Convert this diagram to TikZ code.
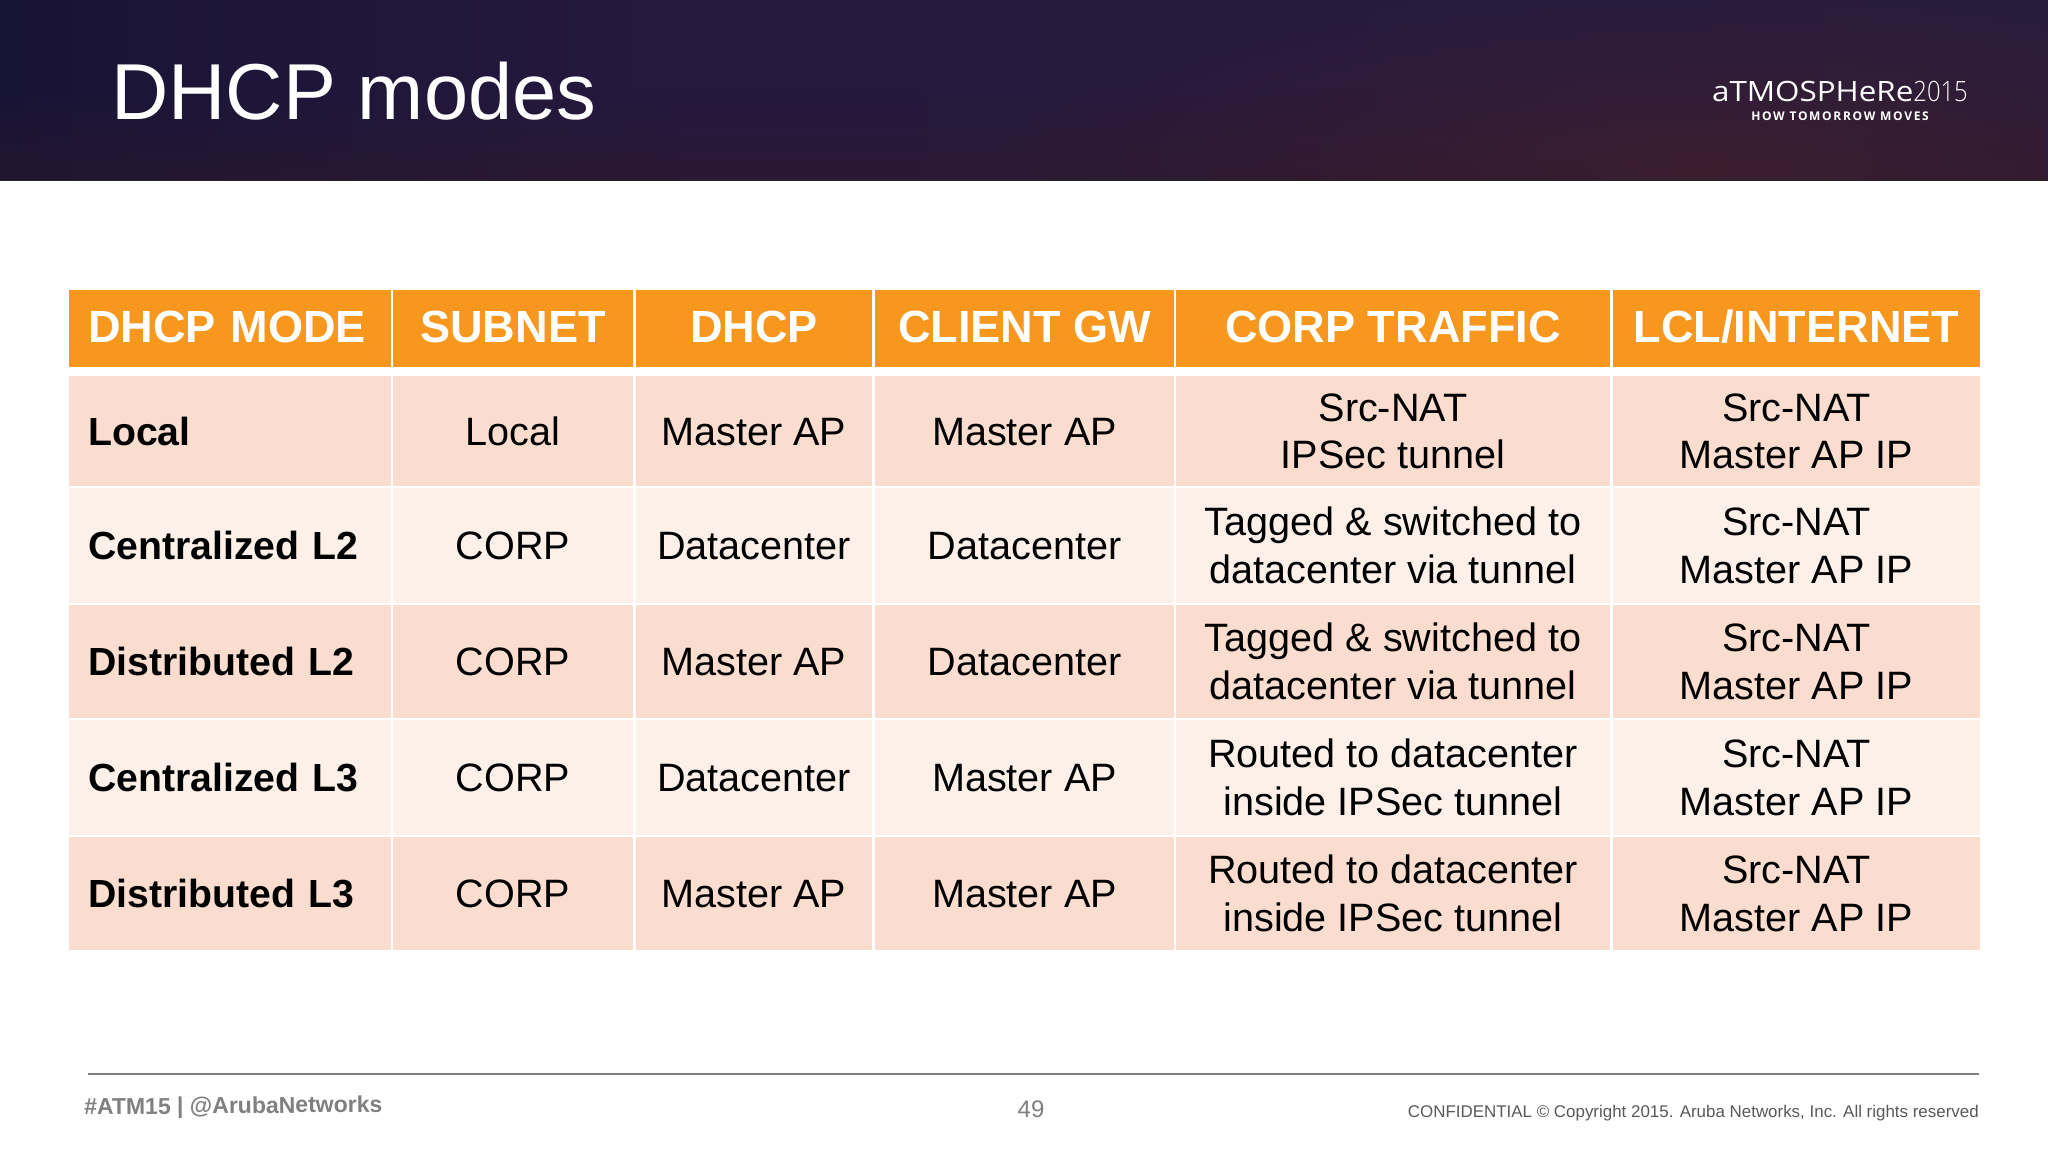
\documentclass[tikz,border=0pt]{standalone}
\usepackage{graphicx}
\usepackage{fontspec}
\setmainfont{Liberation Sans}
\newfontfamily\logofont{Open Sans}
\newfontfamily\yearfont{Open Sans Light}
\usetikzlibrary{positioning}
\usetikzlibrary{fadings}
\definecolor{bandleft}{RGB}{24,20,54}
\definecolor{bandmid}{RGB}{38,25,62}
\definecolor{bandright}{RGB}{40,28,60}
\definecolor{bandfoot}{RGB}{48,24,40}
\definecolor{bandglow}{RGB}{84,36,40}
\definecolor{headorange}{RGB}{247,151,30}
\definecolor{rowdark}{RGB}{251,221,207}
\definecolor{rowlight}{RGB}{253,240,233}
\definecolor{footgrey}{RGB}{128,128,130}
\newcommand{\cellstrut}{\rule[-7pt]{0pt}{35pt}}
\newcommand{\twolines}[2]{\cellstrut #1\\#2\cellstrut}
\tikzfading[name=glowfade,inner color=transparent!60,outer color=transparent!100]
\tikzset{
  cell/.style={inner sep=0pt,align=center,font=\fontsize{29.7}{35.7}\selectfont,text=black},
  modecell/.style={cell,font=\fontsize{29.4}{35.7}\selectfont\bfseries,text width=212pt,align=left},
  headcell/.style={inner sep=0pt,fill=headorange,text=white,minimum height=57.75pt,font=\fontsize{33.8}{38}\selectfont\bfseries},
  dark/.style={fill=rowdark},
  light/.style={fill=rowlight},
  colone/.style={minimum width=241.5pt},
  coltwo/.style={minimum width=180.4pt},
  colthree/.style={minimum width=177pt},
  colfour/.style={minimum width=224.25pt},
  colfive/.style={minimum width=325.5pt},
  colsix/.style={minimum width=275.25pt},
  rowone/.style={minimum height=82.5pt},
  rowtwo/.style={minimum height=86.25pt},
  rowthree/.style={minimum height=84.75pt},
  rowfour/.style={minimum height=86.25pt},
  rowfive/.style={minimum height=84.75pt},
}
\begin{document}
\begin{tikzpicture}[x=0.75pt,y=0.75pt,yscale=-1,xscale=1]
\useasboundingbox (0,0) rectangle (2048,1152);
\fill [white] (0,0) rectangle (2048,1152);
%Title band
\shade [left color=bandleft,right color=bandmid] (0,0) rectangle (700,181);
\shade [left color=bandmid,right color=bandright] (700,0) rectangle (2048,181);
\fill [bandfoot,path fading=north,opacity=0.45] (0,90) rectangle (2048,181);
\begin{scope}
\clip (0,0) rectangle (2048,181);
\fill [bandglow,path fading=glowfade,fit fading=true] (1000,-20) rectangle (2400,340);
\end{scope}
\draw [color=black!85,line width=0.6pt] (0,180.5) -- (2048,180.5);
% Text Node
\draw (111,91) node [anchor=west][inner sep=0pt,text=white,font=\fontsize{59.5}{70}\selectfont] (title) {DHCP modes};
% Text Node
\draw (1968,91) node [anchor=east][inner sep=0pt,text=white,font=\logofont\fontsize{21}{25}\selectfont] (logo) {\scalebox{1.12}[1]{aTMOSPHeRe}{\yearfont\scalebox{0.85}[1]{2015}}};
% Text Node
\draw (1840,116) node [inner sep=0pt,text=white,font=\logofont\bfseries\fontsize{9}{11}\selectfont\addfontfeatures{LetterSpace=14}] (slogan) {HOW TOMORROW MOVES};
%Header row
\draw (229.5,328.5) node [headcell,colone,text width=212pt,align=left] (hmode) {\cellstrut DHCP MODE};
\draw (513,328.5) node [headcell,coltwo] (hsubnet) {\cellstrut SUBNET};
\draw (754,328.5) node [headcell,colthree] (hdhcp) {\cellstrut DHCP};
\draw (1024.5,328.5) node [headcell,colfour] (hgw) {\cellstrut CLIENT GW};
\draw (1393,328.5) node [headcell,colfive] (hcorp) {\cellstrut CORP TRAFFIC};
\draw (1796.5,328.5) node [headcell,colsix] (hlcl) {\cellstrut LCL/INTERNET};
%Local
\draw (229.5,431) node [modecell,dark,colone,rowone] (modea) {\cellstrut Local};
\draw (513,431) node [cell,dark,coltwo,rowone] (subneta) {\cellstrut Local};
\draw (754,431) node [cell,dark,colthree,rowone] (dhcpa) {\cellstrut Master AP};
\draw (1024.5,431) node [cell,dark,colfour,rowone] (gwa) {\cellstrut Master AP};
\draw (1393,431) node [cell,dark,colfive,rowone] (corpa) {\twolines{Src-NAT}{IPSec tunnel}};
\draw (1796.5,431) node [cell,dark,colsix,rowone] (lcla) {\twolines{Src-NAT}{Master AP IP}};
%Centralized L2
\draw (229.5,545.5) node [modecell,light,colone,rowtwo] (modeb) {\cellstrut Centralized L2};
\draw (513,545.5) node [cell,light,coltwo,rowtwo] (subnetb) {\cellstrut CORP};
\draw (754,545.5) node [cell,light,colthree,rowtwo] (dhcpb) {\cellstrut Datacenter};
\draw (1024.5,545.5) node [cell,light,colfour,rowtwo] (gwb) {\cellstrut Datacenter};
\draw (1393,545.5) node [cell,light,colfive,rowtwo] (corpb) {\twolines{Tagged \& switched to}{datacenter via tunnel}};
\draw (1796.5,545.5) node [cell,light,colsix,rowtwo] (lclb) {\twolines{Src-NAT}{Master AP IP}};
%Distributed L2
\draw (229.5,661.5) node [modecell,dark,colone,rowthree] (modec) {\cellstrut Distributed L2};
\draw (513,661.5) node [cell,dark,coltwo,rowthree] (subnetc) {\cellstrut CORP};
\draw (754,661.5) node [cell,dark,colthree,rowthree] (dhcpc) {\cellstrut Master AP};
\draw (1024.5,661.5) node [cell,dark,colfour,rowthree] (gwc) {\cellstrut Datacenter};
\draw (1393,661.5) node [cell,dark,colfive,rowthree] (corpc) {\twolines{Tagged \& switched to}{datacenter via tunnel}};
\draw (1796.5,661.5) node [cell,dark,colsix,rowthree] (lclc) {\twolines{Src-NAT}{Master AP IP}};
%Centralized L3
\draw (229.5,777.5) node [modecell,light,colone,rowfour] (moded) {\cellstrut Centralized L3};
\draw (513,777.5) node [cell,light,coltwo,rowfour] (subnetd) {\cellstrut CORP};
\draw (754,777.5) node [cell,light,colthree,rowfour] (dhcpd) {\cellstrut Datacenter};
\draw (1024.5,777.5) node [cell,light,colfour,rowfour] (gwd) {\cellstrut Master AP};
\draw (1393,777.5) node [cell,light,colfive,rowfour] (corpd) {\twolines{Routed to datacenter}{inside IPSec tunnel}};
\draw (1796.5,777.5) node [cell,light,colsix,rowfour] (lcld) {\twolines{Src-NAT}{Master AP IP}};
%Distributed L3
\draw (229.5,893.5) node [modecell,dark,colone,rowfive] (modee) {\cellstrut Distributed L3};
\draw (513,893.5) node [cell,dark,coltwo,rowfive] (subnete) {\cellstrut CORP};
\draw (754,893.5) node [cell,dark,colthree,rowfive] (dhcpe) {\cellstrut Master AP};
\draw (1024.5,893.5) node [cell,dark,colfour,rowfive] (gwe) {\cellstrut Master AP};
\draw (1393,893.5) node [cell,dark,colfive,rowfive] (corpe) {\twolines{Routed to datacenter}{inside IPSec tunnel}};
\draw (1796.5,893.5) node [cell,dark,colsix,rowfive] (lcle) {\twolines{Src-NAT}{Master AP IP}};
%Footer
\draw [color=footgrey,line width=1.5pt] (88,1073.5) -- (1979,1073.5);
% Text Node
\draw (84,1109) node [anchor=west][inner sep=0pt,rotate=0.5,text=footgrey,font=\fontsize{17.25}{20}\selectfont\bfseries] (tag) {\#ATM15 | @ArubaNetworks};
% Text Node
\draw (1031,1109) node [inner sep=0pt,text=footgrey,font=\fontsize{18}{21}\selectfont] (pagenum) {49};
% Text Node
\draw (1979,1113) node [anchor=east][inner sep=0pt,text=black!65,font=\fontsize{12.7}{15}\selectfont] (notice) {CONFIDENTIAL © Copyright 2015. Aruba Networks, Inc. All rights reserved};
\end{tikzpicture}
\end{document}
